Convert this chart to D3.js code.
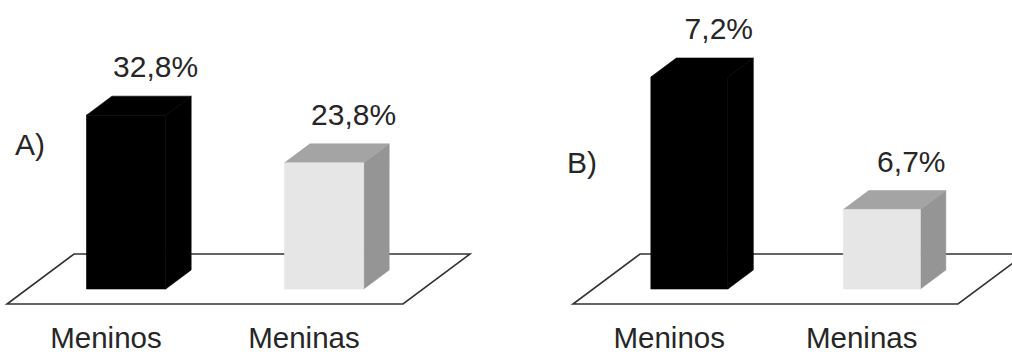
<!DOCTYPE html>
<html>
<head>
<meta charset="utf-8">
<script src="https://cdn.jsdelivr.net/npm/d3@7"></script>
<style>
  html, body { margin: 0; padding: 0; background: #fff; }
  svg { display: block; }
  text { font-family: "Liberation Sans", Arial, sans-serif; fill: #262626; }
</style>
</head>
<body>
<svg id="chart" width="1012" height="354"></svg>
<script>
// Categories shared by both panels
const categories = ["Meninos", "Meninas"];
// Panel titles
const panelTitles = ["A)", "B)"];
// Percentages per panel
const valuesA = [32.8, 23.8];
const valuesB = [7.2, 6.7];
// Value-axis limits of each panel (B does not start at zero)
const axisA = [0, 40];
const axisB = [6.4, 7.2];

// Brazilian number format: comma as decimal separator
const ptBR = d3.formatLocale({ decimal: ",", thousands: ".", grouping: [3], currency: ["R$", ""] });
const fmt = v => ptBR.format(".1f")(v) + "%";

const svg = d3.select("#chart");

// Layout of each panel: floor front edge, title position
const panels = [
  { title: panelTitles[0], values: valuesA, axis: axisA, x0: 7,   x1: 403, titleX: 15,  titleY: 155 },
  { title: panelTitles[1], values: valuesB, axis: axisB, x0: 573, x1: 958, titleX: 567, titleY: 173 }
];

const floorFrontY = 304;
const floorDepth = { dx: 67, dy: -50 };   // oblique projection of the floor depth
const barOffset = 0.3;                     // bar front sits 30% into the floor depth
const barDepth = 0.38;                     // bar depth as fraction of floor depth
const plotHeight = 212;

const colors = [
  { front: "#000", top: "#000", side: "#000" },
  { front: "#e6e6e6", top: "#a4a4a4", side: "#959595" }
];

panels.forEach(p => {
  const g = svg.append("g");

  const x = d3.scaleBand()
    .domain(categories)
    .range([p.x0, p.x1])
    .paddingInner(0.6)
    .paddingOuter(0.3);

  const baseY = floorFrontY + floorDepth.dy * barOffset;
  const shiftX = floorDepth.dx * barOffset;
  const y = d3.scaleLinear().domain(p.axis).range([baseY, baseY - plotHeight]);

  // floor parallelogram
  const floor = [
    [p.x0, floorFrontY],
    [p.x1, floorFrontY],
    [p.x1 + floorDepth.dx, floorFrontY + floorDepth.dy],
    [p.x0 + floorDepth.dx, floorFrontY + floorDepth.dy]
  ];
  g.append("polygon")
    .attr("points", floor.map(d => d.join(",")).join(" "))
    .attr("fill", "none")
    .attr("stroke", "#333")
    .attr("stroke-width", 1.6)
    .attr("stroke-linejoin", "miter");

  const ddx = floorDepth.dx * barDepth;
  const ddy = floorDepth.dy * barDepth;

  categories.forEach((c, i) => {
    const v = p.values[i];
    const left = x(c) + shiftX;
    const right = left + x.bandwidth();
    const top = y(v);
    const col = colors[i];

    const front = [[left, baseY], [right, baseY], [right, top], [left, top]];
    const topFace = [[left, top], [right, top], [right + ddx, top + ddy], [left + ddx, top + ddy]];
    const side = [[right, baseY], [right + ddx, baseY + ddy], [right + ddx, top + ddy], [right, top]];

    [[side, col.side], [topFace, col.top], [front, col.front]].forEach(([pts, fill]) => {
      g.append("polygon")
        .attr("points", pts.map(d => d.join(",")).join(" "))
        .attr("fill", fill)
        .attr("stroke", fill)
        .attr("stroke-width", 0.6)
        .attr("stroke-linejoin", "round");
    });

    // value label above the back face
    g.append("text")
      .attr("x", (left + right) / 2 + ddx + 4)
      .attr("y", top + ddy - 19)
      .attr("text-anchor", "middle")
      .attr("font-size", 30)
      .text(fmt(v));

    // category label under the floor
    g.append("text")
      .attr("x", x(c) + x.bandwidth() / 2)
      .attr("y", 347.5)
      .attr("text-anchor", "middle")
      .attr("font-size", 29.5)
      .text(c);
  });

  g.append("text")
    .attr("x", p.titleX)
    .attr("y", p.titleY)
    .attr("font-size", 30)
    .text(p.title);
});
</script>
</body>
</html>
